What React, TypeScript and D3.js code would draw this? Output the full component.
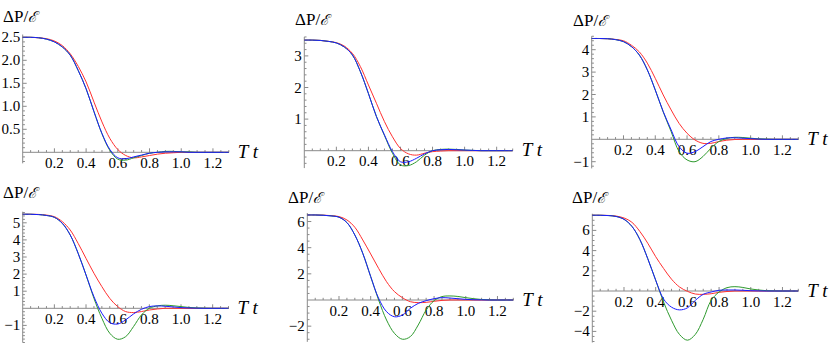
import React from "react";
import * as d3 from "d3";

// time grid (T t)
const T = [0, 0.05, 0.1, 0.15, 0.2, 0.25, 0.3, 0.35, 0.4, 0.45, 0.5, 0.55, 0.6, 0.65, 0.7, 0.75, 0.8, 0.85, 0.9, 0.95, 1.0, 1.05, 1.1, 1.15, 1.2, 1.25, 1.3];

// panel 1
const red1 = [2.5, 2.5, 2.49, 2.47, 2.42, 2.32, 2.14, 1.87, 1.53, 1.09, 0.66, 0.3, 0.06, -0.07, -0.12, -0.1, -0.07, -0.04, -0.02, -0.01, 0, 0, 0, 0, 0, 0, 0];
const green1 = [2.5, 2.5, 2.49, 2.46, 2.4, 2.29, 2.11, 1.78, 1.38, 0.88, 0.4, 0.04, -0.15, -0.17, -0.12, -0.07, -0.02, 0, 0.02, 0.02, 0.01, 0.01, 0, 0, 0, 0, 0];
const blue1 = [2.5, 2.5, 2.49, 2.46, 2.4, 2.29, 2.11, 1.78, 1.38, 0.88, 0.41, 0.06, -0.12, -0.14, -0.1, -0.06, -0.02, 0, 0.01, 0.01, 0.01, 0, 0, 0, 0, 0, 0];

// panel 2
const red2 = [3.5, 3.5, 3.49, 3.46, 3.42, 3.31, 3.08, 2.66, 2.08, 1.5, 0.92, 0.44, 0.07, -0.1, -0.14, -0.08, -0.03, -0.01, 0, 0, 0, 0, 0, 0, 0, 0, 0];
const green2 = [3.5, 3.5, 3.49, 3.46, 3.41, 3.28, 3.03, 2.5, 1.81, 1.08, 0.48, -0.08, -0.45, -0.47, -0.35, -0.14, 0, 0.04, 0.05, 0.04, 0.02, 0.01, 0, 0, 0, 0, 0];
const blue2 = [3.5, 3.5, 3.49, 3.46, 3.41, 3.28, 3.03, 2.5, 1.81, 1.08, 0.5, -0.03, -0.35, -0.35, -0.24, -0.1, 0, 0.03, 0.04, 0.03, 0.02, 0.01, 0, 0, 0, 0, 0];

// panel 3
const red3 = [4.5, 4.5, 4.49, 4.46, 4.4, 4.2, 3.9, 3.4, 2.72, 1.98, 1.31, 0.71, 0.27, -0.03, -0.18, -0.18, -0.1, -0.04, -0.01, 0, 0, 0, 0, 0, 0, 0, 0];
const green3 = [4.5, 4.5, 4.49, 4.45, 4.36, 4.14, 3.76, 3.1, 2.2, 1.22, 0.34, -0.55, -0.92, -1.0, -0.77, -0.4, -0.1, 0.04, 0.09, 0.08, 0.05, 0.02, 0.01, 0, 0, 0, 0];
const blue3 = [4.5, 4.5, 4.49, 4.45, 4.36, 4.14, 3.76, 3.1, 2.2, 1.24, 0.42, -0.33, -0.62, -0.55, -0.33, -0.1, 0, 0.06, 0.07, 0.05, 0.03, 0.01, 0, 0, 0, 0, 0];

// panel 4
const red4 = [5.5, 5.5, 5.49, 5.45, 5.36, 5.07, 4.58, 3.8, 2.92, 2.05, 1.27, 0.58, 0.1, -0.19, -0.25, -0.19, -0.1, -0.04, 0, 0, 0, 0, 0, 0, 0, 0, 0];
const green4 = [5.5, 5.5, 5.48, 5.43, 5.32, 4.97, 4.29, 3.22, 1.95, 0.58, -0.58, -1.46, -1.81, -1.66, -1.07, -0.39, 0, 0.14, 0.18, 0.15, 0.1, 0.05, 0.02, 0.01, 0, 0, 0];
const blue4 = [5.5, 5.5, 5.48, 5.43, 5.32, 4.97, 4.29, 3.22, 1.95, 0.68, -0.29, -0.84, -0.92, -0.68, -0.33, -0.06, 0.1, 0.14, 0.12, 0.08, 0.04, 0.02, 0.01, 0, 0, 0, 0];

// panel 5
const red5 = [6.5, 6.5, 6.49, 6.45, 6.38, 6.12, 5.56, 4.59, 3.52, 2.42, 1.4, 0.64, 0.18, -0.13, -0.2, -0.18, -0.1, -0.03, 0, 0, 0, 0, 0, 0, 0, 0, 0];
const green5 = [6.5, 6.5, 6.48, 6.43, 6.33, 5.92, 4.97, 3.57, 1.79, 0, -1.53, -2.55, -3.0, -2.8, -1.91, -0.77, -0.05, 0.26, 0.31, 0.27, 0.18, 0.1, 0.04, 0.01, 0, 0, 0];
const blue5 = [6.5, 6.5, 6.48, 6.43, 6.33, 5.92, 4.97, 3.57, 1.79, 0.13, -0.89, -1.28, -1.15, -0.64, -0.26, -0.05, 0.1, 0.18, 0.15, 0.1, 0.05, 0.02, 0.01, 0, 0, 0, 0];

// panel 6
const red6 = [7.5, 7.5, 7.48, 7.42, 7.23, 6.8, 5.9, 4.73, 3.4, 2.23, 1.17, 0.4, -0.03, -0.3, -0.33, -0.27, -0.13, -0.05, 0, 0, 0, 0, 0, 0, 0, 0, 0];
const green6 = [7.5, 7.5, 7.47, 7.38, 7.1, 6.4, 5.1, 3.2, 1.07, -1.1, -2.9, -4.3, -4.87, -4.3, -2.8, -0.93, -0.1, 0.33, 0.43, 0.35, 0.2, 0.1, 0.03, 0.01, 0, 0, 0];
const blue6 = [7.5, 7.5, 7.47, 7.38, 7.1, 6.4, 5.1, 3.2, 1.07, -0.8, -1.6, -1.87, -1.67, -0.93, -0.33, -0.1, 0.07, 0.1, 0.1, 0.07, 0.03, 0.01, 0, 0, 0, 0, 0];

// tick labels
const xTicks = [0.2, 0.4, 0.6, 0.8, 1.0, 1.2];
const xTickLabels = ["0.2", "0.4", "0.6", "0.8", "1.0", "1.2"];
const yTicks1 = [0.5, 1.0, 1.5, 2.0, 2.5];
const yTickLabels1 = ["0.5", "1.0", "1.5", "2.0", "2.5"];
const yTicks2 = [1, 2, 3];
const yTicks3 = [-1, 1, 2, 3, 4];
const yTicks4 = [-1, 1, 2, 3, 4, 5];
const yTicks5 = [-2, 2, 4, 6];
const yTicks6 = [-4, -2, 2, 4, 6];

const yLabel = "ΔP/";
const yLabelE = "ℰ";
const xLabel = "T t";

// layout of each panel: zero line, scale, axis extent, label spots
const panels = [
  { red: red1, green: green1, blue: blue1, yTicks: yTicks1, yLabels: yTickLabels1, minor: 0.1, yMin: -0.24, yMax: 2.56,
    left: 22.7, right: 228.8, zero: 152.3, k: 46, lx: 3, ly: 21.5 },
  { red: red2, green: green2, blue: blue2, yTicks: yTicks2, yLabels: null, minor: 0.2, yMin: -0.55, yMax: 3.6,
    left: 304.3, right: 512.7, zero: 150.7, k: 31.6, lx: 295, ly: 25 },
  { red: red3, green: green3, blue: blue3, yTicks: yTicks3, yLabels: null, minor: 0.2, yMin: -1.3, yMax: 4.6,
    left: 591.7, right: 798.3, zero: 139.3, k: 22.4, lx: 573, ly: 26 },
  { red: red4, green: green4, blue: blue4, yTicks: yTicks4, yLabels: null, minor: 0.2, yMin: -2.0, yMax: 5.65,
    left: 22.7, right: 228.5, zero: 308.3, k: 17.1, lx: 3, ly: 198 },
  { red: red5, green: green5, blue: blue5, yTicks: yTicks5, yLabels: null, minor: 0.5, yMin: -3.2, yMax: 6.65,
    left: 307.3, right: 513.3, zero: 300, k: 13.08, lx: 288, ly: 203 },
  { red: red6, green: green6, blue: blue6, yTicks: yTicks6, yLabels: null, minor: 0.5, yMin: -5.1, yMax: 7.65,
    left: 592.3, right: 798.3, zero: 291, k: 10.1, lx: 572, ly: 203 },
];

const FONT = "'Liberation Serif', 'Times New Roman', Times, serif";
const AXIS = "#8a8a8a";

function fmt(v: number) {
  return v < 0 ? "\u2212" + Math.abs(v) : String(v);
}

function Panel({ p }: { p: any }) {
  const x = d3.scaleLinear().domain([0, 1.3]).range([p.left, p.right]);
  const y = d3.scaleLinear()
    .domain([p.yMin, p.yMax])
    .range([p.zero - p.yMin * p.k, p.zero - p.yMax * p.k]);

  const line = d3.line<number>()
    .x((_, i) => x(T[i]))
    .y(d => y(d))
    .curve(d3.curveCatmullRom.alpha(0.5));

  const xMinor = d3.range(0.05, 1.3001, 0.05).filter(v => Math.abs(Math.round(v * 5) - v * 5) > 1e-6);
  const yMinor = d3.range(Math.ceil(p.yMin / p.minor) * p.minor, p.yMax + 1e-9, p.minor)
    .filter((v: number) => !p.yTicks.some((t: number) => Math.abs(t - v) < 1e-6) && Math.abs(v) > 1e-6);

  const y0 = y(0);
  const ax = x(0);
  const tickStyle = { fontFamily: FONT, fontSize: "15px" };

  return (
    <g>
      {/* axes */}
      <line x1={ax} x2={x(1.3)} y1={y0} y2={y0} stroke={AXIS} strokeWidth={1} />
      <line x1={ax} x2={ax} y1={y(p.yMin)} y2={y(p.yMax)} stroke={AXIS} strokeWidth={1} />
      {xTicks.map(v => (
        <line key={"xt" + v} x1={x(v)} x2={x(v)} y1={y0} y2={y0 - 4} stroke={AXIS} />
      ))}
      {xMinor.map(v => (
        <line key={"xm" + v} x1={x(v)} x2={x(v)} y1={y0} y2={y0 - 2.2} stroke={AXIS} />
      ))}
      {p.yTicks.map((v: number) => (
        <line key={"yt" + v} x1={ax} x2={ax + 4} y1={y(v)} y2={y(v)} stroke={AXIS} />
      ))}
      {yMinor.map((v: number) => (
        <line key={"ym" + v} x1={ax} x2={ax + 2.2} y1={y(v)} y2={y(v)} stroke={AXIS} />
      ))}
      {xTicks.map((v, i) => (
        <text key={"xl" + v} x={x(v)} y={y0 + 15.5} textAnchor="middle" style={tickStyle}>
          {xTickLabels[i]}
        </text>
      ))}
      {p.yTicks.map((v: number, i: number) => (
        <text key={"yl" + v} x={ax - 2.5} y={y(v) + 5} textAnchor="end" style={tickStyle}>
          {p.yLabels ? p.yLabels[i] : fmt(v)}
        </text>
      ))}
      {/* curves */}
      <path d={line(p.red) || ""} fill="none" stroke="#ff3030" strokeWidth={1} />
      <path d={line(p.green) || ""} fill="none" stroke="#2e9a2e" strokeWidth={1} />
      <path d={line(p.blue) || ""} fill="none" stroke="#1a1aff" strokeWidth={1} />
      {/* labels */}
      <text x={p.lx} y={p.ly} style={{ fontFamily: FONT, fontSize: "17px" }}>
        {yLabel}
        <tspan style={{ fontFamily: "'DejaVu Serif', serif", fontStyle: "italic", fontSize: "15px" }}>{yLabelE}</tspan>
      </text>
      <text x={x(1.3) + 9} y={y0 + 5.5} style={{ fontFamily: FONT, fontSize: "19px", fontStyle: "italic" }}>
        {xLabel}
      </text>
    </g>
  );
}

export default function App() {
  return (
    <svg width={830} height={345} style={{ position: "absolute", left: 0, top: 0, background: "#fff" }}>
      {panels.map((p, i) => (
        <Panel key={i} p={p} />
      ))}
    </svg>
  );
}
